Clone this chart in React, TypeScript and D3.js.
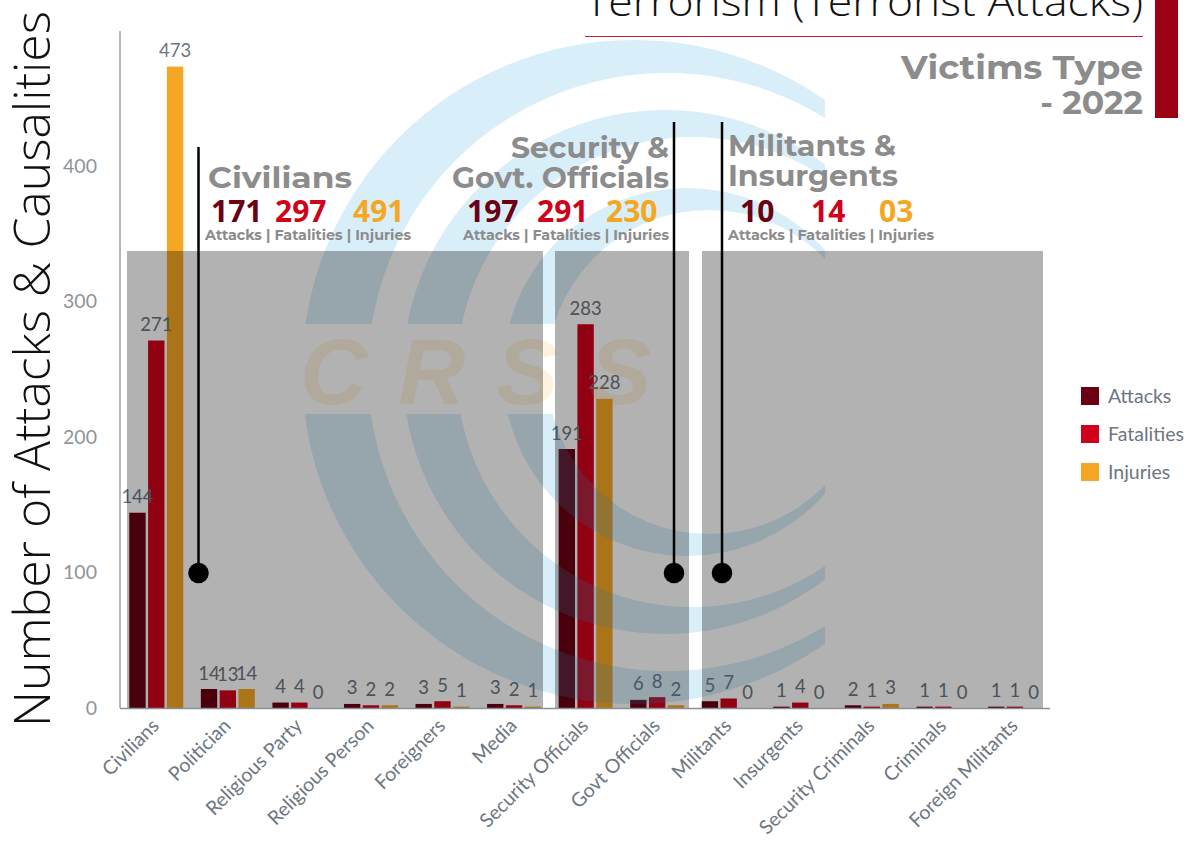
import React from "react";
import * as d3 from "d3";

// ---------- data ----------
const categories = [
  "Civilians", "Politician", "Religious Party", "Religious Person", "Foreigners", "Media",
  "Security Officials", "Govt Officials",
  "Militants", "Insurgents", "Security Criminals", "Criminals", "Foreign Militants",
];
const seriesNames = ["Attacks", "Fatalities", "Injuries"];
const attacks = [144, 14, 4, 3, 3, 3, 191, 6, 5, 1, 2, 1, 1];
const fatalities = [271, 13, 4, 2, 5, 2, 283, 8, 7, 4, 1, 1, 1];
const injuries = [473, 14, 0, 2, 1, 1, 228, 2, 0, 0, 3, 0, 0];
const yTicks = [0, 100, 200, 300, 400];

const groupTitles = [["Civilians"], ["Security &", "Govt. Officials"], ["Militants &", "Insurgents"]];
const groupFrom = [0, 6, 8];
const groupTo = [5, 7, 12];

const titleText = "Terrorism (Terrorist Attacks)";
const subTitle1 = "Victims Type";
const subTitle2 = "- 2022";
const yAxisTitle = "Number of Attacks & Causalities";
const summaryLabel = "Attacks | Fatalities | Injuries";

// ---------- style ----------
const colors = ["#6b0012", "#d0021b", "#f5a623"];
const W = 1195, H = 843;
const HEAD = "Montserrat, 'DejaVu Sans', sans-serif";
const NUM = "'Open Sans', 'Noto Sans', sans-serif";
const LATO = "Lato, 'Open Sans', sans-serif";
const GREY = "#8c8c8c";
const LABEL = "#6d7681";

// annotation layout (decoration)
const annot = [
  { lineX: 198.5, lineTop: 147, align: "start", headX: 208, headW: [144], headY: [188],
    numX: [211, 275, 353], labX: 205 },
  { lineX: 674, lineTop: 122, align: "end", headX: 669, headW: [158, 217], headY: [158, 188],
    numX: [467, 537, 606], labX: 463 },
  { lineX: 722, lineTop: 122, align: "start", headX: 728, headW: [168, 170], headY: [156, 186],
    numX: [740, 811, 879], labX: 728 },
];
const overlaySegs = [[127, 543], [555, 689], [702, 1043]];

// watermark rings: [cx, cy, R, d]
const rings = [
  [634, 372, 332, 33],
  [665, 372, 262, 27],
  [687, 372, 184, 22],
];

export default function App() {
  const values = [attacks, fatalities, injuries];
  const x = d3.scaleBand<string>().domain(categories).range([120.5, 1050.7]);
  const xs = d3.scaleBand<string>().domain(seriesNames).range([0, x.bandwidth()])
    .paddingInner(0.13).paddingOuter(0.468);
  const y = d3.scaleLinear().domain([0, 500]).range([708, 30]);
  const fmt = d3.format("02d");

  const crescent = (cx: number, cy: number, R: number, d: number) => {
    const p = d3.path();
    p.moveTo(cx + R, cy);
    p.arc(cx, cy, R, 0, Math.PI * 2);
    p.closePath();
    const r = R - d;
    p.moveTo(cx + d + r, cy);
    p.arc(cx + d, cy, r, 0, Math.PI * 2);
    p.closePath();
    return p.toString();
  };

  return (
    <svg width={W} height={H} style={{ position: "absolute", left: 0, top: 0, display: "block", background: "#fff" }}>
      <defs>
        <clipPath id="wmclip">
          <rect x={0} y={0} width={825} height={324} />
          <rect x={0} y={414} width={825} height={400} />
        </clipPath>
      </defs>

      {/* bars */}
      <g>
        {categories.map((c, i) =>
          seriesNames.map((s, k) => {
            const v = values[k][i];
            return (
              <rect key={c + s} x={(x(c) as number) + (xs(s) as number)} y={y(v)}
                width={xs.bandwidth()} height={y(0) - y(v)} fill={colors[k]} />
            );
          })
        )}
      </g>

      {/* value labels */}
      <g fontFamily={LATO} fontSize={18.5} fill={LABEL} textAnchor="middle">
        {categories.map((c, i) =>
          seriesNames.map((s, k) => {
            const v = values[k][i];
            return (
              <text key={"l" + c + s} x={(x(c) as number) + (xs(s) as number) + xs.bandwidth() / 2}
                y={y(v) - 9.5}>{v}</text>
            );
          })
        )}
      </g>

      {/* watermark */}
      <g clipPath="url(#wmclip)">
        {rings.map((r, i) => (
          <path key={"ring" + i} d={crescent(r[0], r[1], r[2], r[3])} fill="rgb(60,170,220)"
            fillOpacity={0.2} fillRule="evenodd" />
        ))}
      </g>
      <text x={300} y={404} fontFamily="'Liberation Sans', Arial, sans-serif" fontWeight="bold"
        fontStyle="italic" fontSize={93} letterSpacing={31} fill="#f5a623" fillOpacity={0.15}>CRSS</text>

      {/* grey overlay */}
      <g>
        {overlaySegs.map((s, i) => (
          <rect key={"ov" + i} x={s[0]} y={251} width={s[1] - s[0]} height={708 - 251} fill="#000" fillOpacity={0.3} />
        ))}
      </g>

      {/* axes */}
      <line x1={120} x2={120} y1={31} y2={708} stroke="#9aa0a6" strokeWidth={1.5} />
      <line x1={120} x2={1050} y1={708.5} y2={708.5} stroke="#8a9097" strokeWidth={1.5} />
      <g fontFamily={LATO} fontSize={19.5} fill="#8e949a" textAnchor="end">
        {yTicks.map((t) => (
          <text key={"t" + t} x={97} y={y(t) + 7}>{t}</text>
        ))}
      </g>
      <g fontFamily={LATO} fontSize={19.5} fill={LABEL} textAnchor="end">
        {categories.map((c) => {
          const cx = (x(c) as number) + x.bandwidth() / 2 + 4;
          return (
            <text key={"x" + c} transform={`translate(${cx},${727}) rotate(-45)`}>{c}</text>
          );
        })}
      </g>
      <text transform="translate(50,369) rotate(-90)" textAnchor="middle" fontFamily="'Open Sans', sans-serif"
        fontWeight={300} fontSize={49} fill="#111" textLength={716} lengthAdjust="spacingAndGlyphs">{yAxisTitle}</text>

      {/* annotations */}
      {annot.map((a, gi) => {
        const sums = values.map((vals) => d3.sum(vals.slice(groupFrom[gi], groupTo[gi] + 1)));
        return (
          <g key={"an" + gi}>
            <line x1={a.lineX} x2={a.lineX} y1={a.lineTop} y2={573} stroke="#000" strokeWidth={2.5} />
            <circle cx={a.lineX} cy={573} r={10.3} fill="#000" />
            {groupTitles[gi].map((t, j) => (
              <text key={"h" + j} x={a.headX} y={a.headY[j]} textAnchor={a.align as any}
                fontFamily={HEAD} fontWeight="bold" fontSize={29} fill={GREY}
                textLength={a.headW[j]} lengthAdjust="spacingAndGlyphs">{t}</text>
            ))}
            {sums.map((s, k) => (
              <text key={"n" + k} x={a.numX[k]} y={222} fontFamily={NUM} fontWeight="bold"
                fontSize={30} fill={colors[k]}>{fmt(s)}</text>
            ))}
            <text x={a.labX} y={239.5} fontFamily={HEAD} fontWeight="bold" fontSize={13.5} fill={GREY}
              textLength={206} lengthAdjust="spacingAndGlyphs">{summaryLabel}</text>
          </g>
        );
      })}

      {/* title block */}
      <text x={1143} y={16} textAnchor="end" fontFamily="'Open Sans', sans-serif" fontWeight={300}
        fontSize={40} fill="#111" textLength={558} lengthAdjust="spacingAndGlyphs">{titleText}</text>
      <line x1={585} x2={1143} y1={36.5} y2={36.5} stroke="#c8202f" strokeWidth={1} />
      <rect x={1155} y={0} width={23} height={118} fill="#9b0014" />
      <text x={1143} y={79} textAnchor="end" fontFamily={HEAD} fontWeight="bold" fontSize={33}
        fill={GREY} textLength={242} lengthAdjust="spacingAndGlyphs">{subTitle1}</text>
      <text x={1143} y={114} textAnchor="end" fontFamily={HEAD} fontWeight="bold" fontSize={33}
        fill={GREY}>{subTitle2}</text>

      {/* legend */}
      <g fontFamily={LATO} fontSize={19.5} fill={LABEL}>
        {seriesNames.map((s, k) => (
          <g key={"lg" + s} transform={`translate(1081,${387 + k * 38})`}>
            <rect width={18} height={18} fill={colors[k]} />
            <text x={27} y={16}>{s}</text>
          </g>
        ))}
      </g>
    </svg>
  );
}
